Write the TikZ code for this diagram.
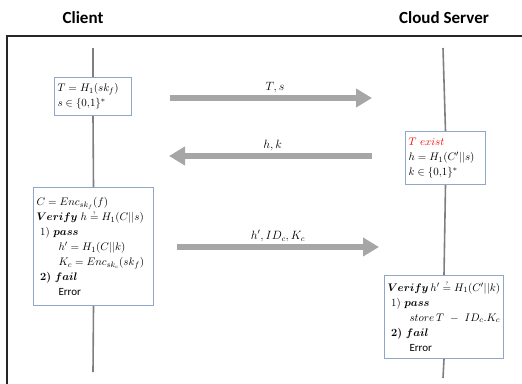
\documentclass[tikz,border=0pt]{standalone}
\usepackage{amsmath}
\usepackage{bm}
\usepackage{fontspec}
\newfontfamily\labelfont{Carlito}
\usetikzlibrary{arrows.meta}
\definecolor{boxedge}{HTML}{8FA8C8}
\definecolor{msggray}{HTML}{A6A6A6}
\definecolor{lifegray}{HTML}{7F7F7F}
\definecolor{framegray}{HTML}{262626}
\newcommand{\bw}[1]{\bm{#1}}
% "=" with a small question mark on top, kept within the line height
\newcommand{\qeq}{\mathrel{\smash{\stackrel{\raisebox{-1.5pt}{$\scriptscriptstyle ?$}}{=}}}}
\tikzset{
  party/.style={font=\labelfont\bfseries\fontsize{17}{19}\selectfont},
  stepbox/.style={draw=boxedge, line width=1pt, fill=white, anchor=north west,
    align=left, inner sep=3pt, font=\fontsize{11}{15}\selectfont},
  lifeline/.style={draw=lifegray, line width=1.6pt},
  msg/.style={draw=msggray, line width=6pt, -{Triangle[length=16pt,width=18pt]}},
  msglabel/.style={font=\fontsize{11.5}{13}\selectfont, anchor=south},
}
\begin{document}
\begin{tikzpicture}[x=1pt,y=-1pt]
\useasboundingbox (0,0) rectangle (522,383);
\clip (0,0) rectangle (522,383);

% outer frame
\draw[framegray, line width=2pt] (7,400) -- (7,36) -- (540,36);

% party headings
\node[party] (client) at (83,18) {Client};
\node[party] (server) at (444,18) {Cloud Server};

% lifeline ends
\coordinate (ctop) at (93,48);
\coordinate (cbot) at (93,372);
\coordinate (stop) at (443,48);
\coordinate (sbot) at (443,378);

% client boxes
\node[stepbox, minimum width=77pt, minimum height=38pt, text width=71pt] (b1) at (54,77)
  {$T = H_1(sk_f)$\\ $s \in \{0{,}1\}^{*}$};
\node[stepbox, minimum width=120pt, minimum height=118pt, text width=114pt] (b3) at (33,187)
  {$C = Enc_{sk_f}(f)$\\
   $\bw{Verify}\; h \qeq H_1(C||s)$\\
   \ 1) $\bw{pass}$\\
   \qquad$h' = H_1(C||k)$\\
   \qquad$K_c = Enc_{sk_c}(sk_f)$\\
   \ \textbf{2)} $\bw{fail}$\\
   \qquad{\labelfont Error}};

% server boxes
\node[stepbox, minimum width=80pt, minimum height=53pt, text width=74pt] (b2) at (405,131)
  {{\color{red}$T\ exist$}\\ $h = H_1(C'||s)$\\ $k \in \{0{,}1\}^{*}$};
\node[stepbox, minimum width=119pt, minimum height=83pt, text width=113pt] (b4) at (384,275)
  {$\bw{Verify}\, h' \qeq H_1(C'||k)$\\
   \ 1) $\bw{pass}$\\
   \qquad$store\, T\ -\ ID_c.K_c$\\
   \ \textbf{2)} $\bw{fail}$\\
   \qquad{\labelfont Error}};

% lifelines
\draw[lifeline] (ctop) -- (b1.north);
\draw[lifeline] (b1.south) -- (b3.north);
\draw[lifeline] (b3.south) -- (cbot);
\draw[lifeline] (stop) -- (b2.north);
\draw[lifeline] (b2.south) -- (b4.north);
\draw[lifeline] (b4.south) -- (sbot);

% messages
\coordinate (m1a) at (170,98);  \coordinate (m1b) at (372,98);
\coordinate (m2a) at (372,156); \coordinate (m2b) at (169,156);
\coordinate (m3a) at (177,247); \coordinate (m3b) at (379,247);
\draw[msg] (m1a) -- (m1b) node[msglabel, pos=0.52, yshift=-1pt] (l1) {$T, s$};
\draw[msg] (m2a) -- (m2b) node[msglabel, pos=0.49, yshift=-1pt] (l2) {$h, k$};
\draw[msg] (m3a) -- (m3b) node[msglabel, pos=0.5, yshift=-1pt] (l3) {$h', ID_c, K_c$};
\end{tikzpicture}
\end{document}
